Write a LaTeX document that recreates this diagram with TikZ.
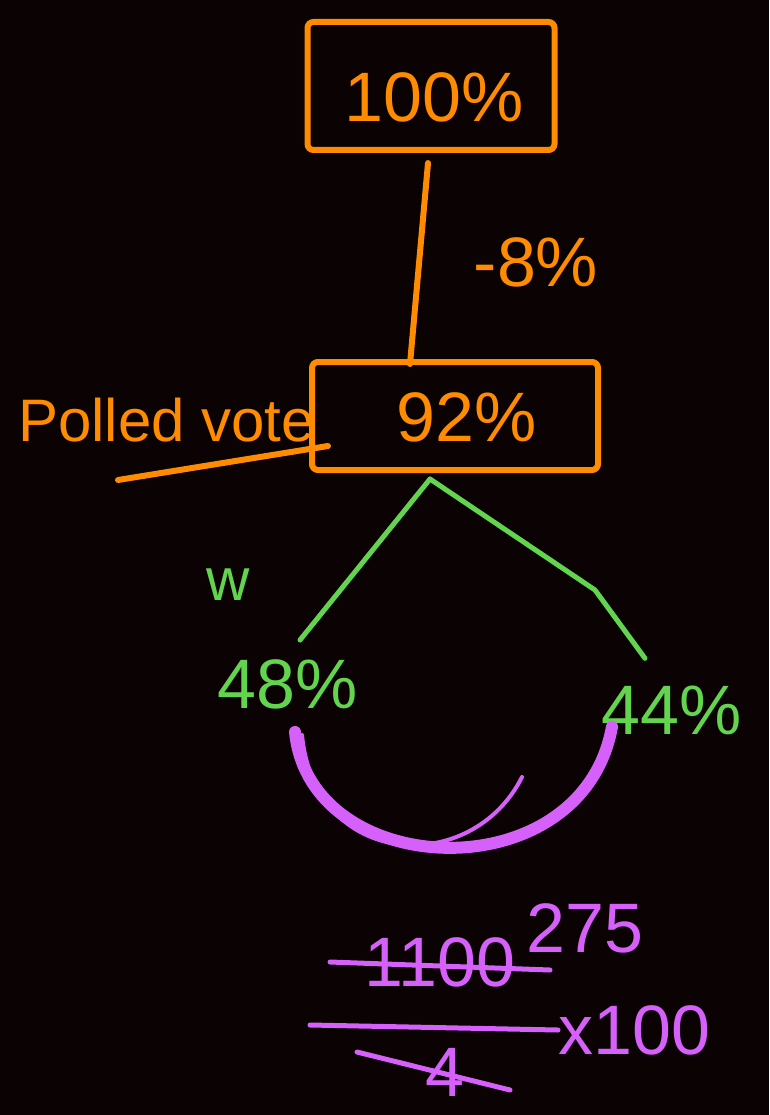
\documentclass[tikz,border=0pt]{standalone}
\usepackage{fontspec}
\setmainfont{Liberation Sans}
\definecolor{board}{RGB}{10,2,3}
\definecolor{penorange}{RGB}{255,140,0}
\definecolor{pengreen}{RGB}{98,212,78}
\definecolor{penpurple}{RGB}{214,96,250}
\tikzset{
  big/.style={font=\fontsize{70}{80}\selectfont, inner sep=0pt},
  mid/.style={font=\fontsize{60}{70}\selectfont, inner sep=0pt},
  orbox/.style={draw=penorange, line width=6pt, rounded corners=6pt, inner sep=0pt},
  pen/.style={line width=6pt, line cap=round, line join=round},
}
\begin{document}
\begin{tikzpicture}[x=1pt,y=-1pt]
\useasboundingbox (0,0) rectangle (769,1115);
\fill[board] (0,0) rectangle (769,1115);

% orange part
\node[orbox, minimum width=247pt, minimum height=128pt] (box100) at (431,86) {};
\node[big, text=penorange] (t100) at (434,97) {100\%};
\node[orbox, minimum width=286pt, minimum height=108pt] (box92) at (455,416) {};
\node[big, text=penorange] (t92) at (467,417) {92\%};
\node[big, text=penorange] (minus8) at (536,262) {-8\%};
\node[mid, text=penorange, anchor=west] (polled) at (18,420) {Polled vote};
\draw[pen, penorange] ([shift={(-3,10)}]box100.south) -- ([shift={(-45,5)}]box92.north);
\coordinate (ul1) at (118,480);
\coordinate (ul2) at (328,446);
\draw[pen, penorange] (ul1) -- (ul2);

% green part
\node[mid, text=pengreen] (w) at (228,585) {w};
\node[big, text=pengreen] (w48) at (288,684) {48\%};
\node[big, text=pengreen] (w44) at (672,710) {44\%};
\draw[pen, pengreen, line width=5pt] ([shift={(-25,6)}]box92.south) -- ([shift={(12,-19)}]w48.north);
\draw[pen, pengreen, line width=5pt] ([shift={(-25,6)}]box92.south) -- (595,590) -- ([shift={(-27,-27)}]w44.north);

% purple arc
\draw[pen, penpurple, line width=12pt] ([shift={(7,23)}]w48.south)
  .. controls +(15,150) and +(-30,166) .. ([shift={(-60,-8)}]w44.south);
\draw[pen, penpurple, line width=4pt] ([shift={(14,26)}]w48.south)
  .. controls +(13,135) and +(-50,100) .. (522,777);

% fraction
\node[big, text=penpurple] (n275) at (585,928) {275};
\node[big, text=penpurple] (n1100) at (440,962) {1100};
\node[big, text=penpurple] (n4) at (445,1072) {4};
\node[big, text=penpurple, anchor=west] (times100) at (558,1030) {x100};
\draw[pen, penpurple, line width=5pt] ([shift={(-110,0)}]n1100.center) -- ([shift={(110,8)}]n1100.center);
\draw[pen, penpurple, line width=5pt] (310,1025) -- (times100.west);
\draw[pen, penpurple, line width=5pt] ([shift={(-88,-20)}]n4.center) -- ([shift={(65,18)}]n4.center);
\end{tikzpicture}
\end{document}
